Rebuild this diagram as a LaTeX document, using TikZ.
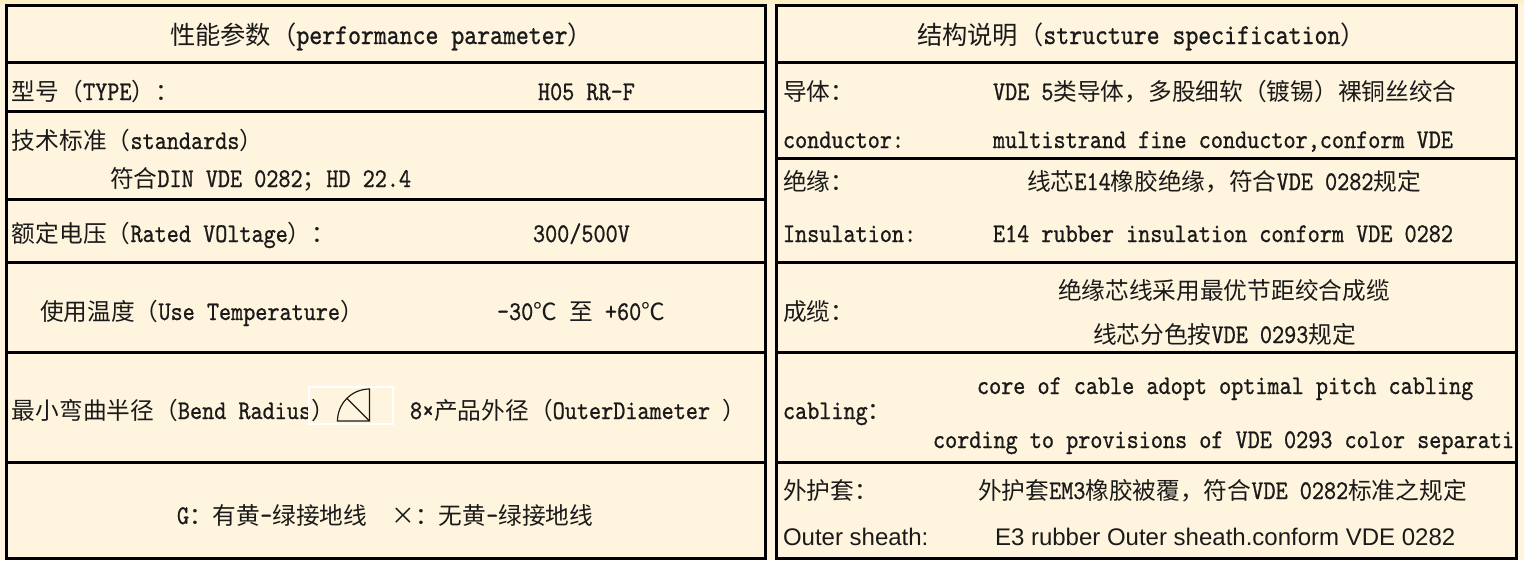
\documentclass[tikz,border=0pt]{standalone}
\usepackage{fontspec}
\newfontfamily\zhf{Noto Sans CJK SC}[Scale=0.878]
\newfontfamily\latm{lmmono10-regular.otf}[FakeStretch=0.854,FakeBold=0.8]
\newfontfamily\arialf{Liberation Sans}
\newcommand\zh[1]{{\zhf #1}}
\definecolor{cream}{HTML}{FFF5DE}
\definecolor{strip}{HTML}{FFEFC4}
\definecolor{ink}{HTML}{1A1A1A}
\begin{document}
\begin{tikzpicture}[x=1pt,y=-1pt,
  every node/.style={inner sep=0pt,outer sep=0pt,text=ink},
  body/.style={font=\fontsize{27}{32}\selectfont\latm,anchor=base west},
  head/.style={font=\fontsize{28.8}{34}\selectfont\latm,anchor=base west},
  arial/.style={font=\fontsize{24}{28}\selectfont\arialf,anchor=base west},
  rule/.style={line width=3pt,draw=black}]
\useasboundingbox (0,0) rectangle (1524,560);
\fill[cream] (0,0) rectangle (1524,560);
\fill[strip] (0,0) rectangle (1524,3.5);
% left table texts
\node[head] (lh) at (170,44) {\zh{性能参数（}performance parameter\zh{）}};
\node[body] (ltype) at (12,100) {\zh{型号（}TYPE\zh{）：}};
\node[body] (ltypev) at (538,100) {H05 RR-F};
\node[body] (lstd) at (12,149) {\zh{技术标准（}standards\zh{）}};
\node[body] (lstdv) at (110,187) {\zh{符合}DIN VDE 0282\zh{；}HD 22.4};
\node[body] (lvolt) at (12,242) {\zh{额定电压（}Rated VOltage\zh{）：}};
\node[body] (lvoltv) at (533,242) {300/500V};
\node[body] (ltemp) at (40,320) {\zh{使用温度（}Use Temperature\zh{）}};
\node[body] (ltempv) at (497,320) {-30\zh{℃} \zh{至} +60\zh{℃}};
\node[body] (lbend) at (12,419) {\zh{最小弯曲半径（}Bend Radius\zh{）}};
\node[body] (lbendv) at (410,419) {8×\zh{产品外径（}OuterDiameter \zh{）}};
\node[body] (lgnd) at (177,524) {G\zh{：有黄}-\zh{绿接地线}\ \ \zh{×：无黄}-\zh{绿接地线}};
% bend radius symbol
\draw[white,line width=1.5pt] (309,387) rectangle (393,424);
\draw[ink,line width=1.2pt] (369.5,421) -- (337.5,421) arc[start angle=180,end angle=270,radius=32] -- cycle;
\draw[ink,line width=1.2pt] (369.5,421) -- ++(-22.6,-22.6);
% right table texts
\node[head] (rh) at (917,44) {\zh{结构说明（}structure specification\zh{）}};
\node[body] (rcond) at (783,100) {\zh{导体：}};
\node[body] (rcondv) at (993,100) {VDE 5\zh{类导体，多股细软（镀锡）裸铜丝绞合}};
\node[body] (rconde) at (783,148) {conductor:};
\node[body] (rcondev) at (993,148) {multistrand fine conductor,conform VDE};
\node[body] (rins) at (783,190) {\zh{绝缘：}};
\node[body] (rinsv) at (1027,190) {\zh{线芯}E14\zh{橡胶绝缘，符合}VDE 0282\zh{规定}};
\node[body] (rinse) at (783,242) {Insulation:};
\node[body] (rinsev) at (993,242) {E14 rubber insulation conform VDE 0282};
\node[body] (rcab) at (783,320) {\zh{成缆：}};
\node[body] (rcabv1) at (1058,299) {\zh{绝缘芯线采用最优节距绞合成缆}};
\node[body] (rcabv2) at (1093,343) {\zh{线芯分色按}VDE 0293\zh{规定}};
\node[body] (rcabe) at (783,419) {cabling\zh{：}};
\node[body] (rcabev1) at (977,394) {core of cable adopt optimal pitch cabling};
\begin{scope}
\clip (777,352) rectangle (1515,462);
\node[body] (rcabev2) at (933,448) {cording to provisions of VDE 0293 color separation};
\end{scope}
\node[body] (rsh) at (783,499) {\zh{外护套：}};
\node[body] (rshv) at (978,499) {\zh{外护套}EM3\zh{橡胶被覆，符合}VDE 0282\zh{标准之规定}};
\node[arial] (rshe) at (783,545) {Outer sheath:};
\node[arial] (rshev) at (995,545) {E3 rubber Outer sheath.conform VDE 0282};
% table rules
\draw[rule] (6.5,5) rectangle (765.5,558);
\draw[rule] (776.5,5) rectangle (1516,558);
\foreach \yy in {62,111,199,262,352,462} \draw[rule] (6.5,\yy) -- (765.5,\yy);
\foreach \yy in {62,158,262,352,462} \draw[rule] (776.5,\yy) -- (1516,\yy);
\end{tikzpicture}
\end{document}
